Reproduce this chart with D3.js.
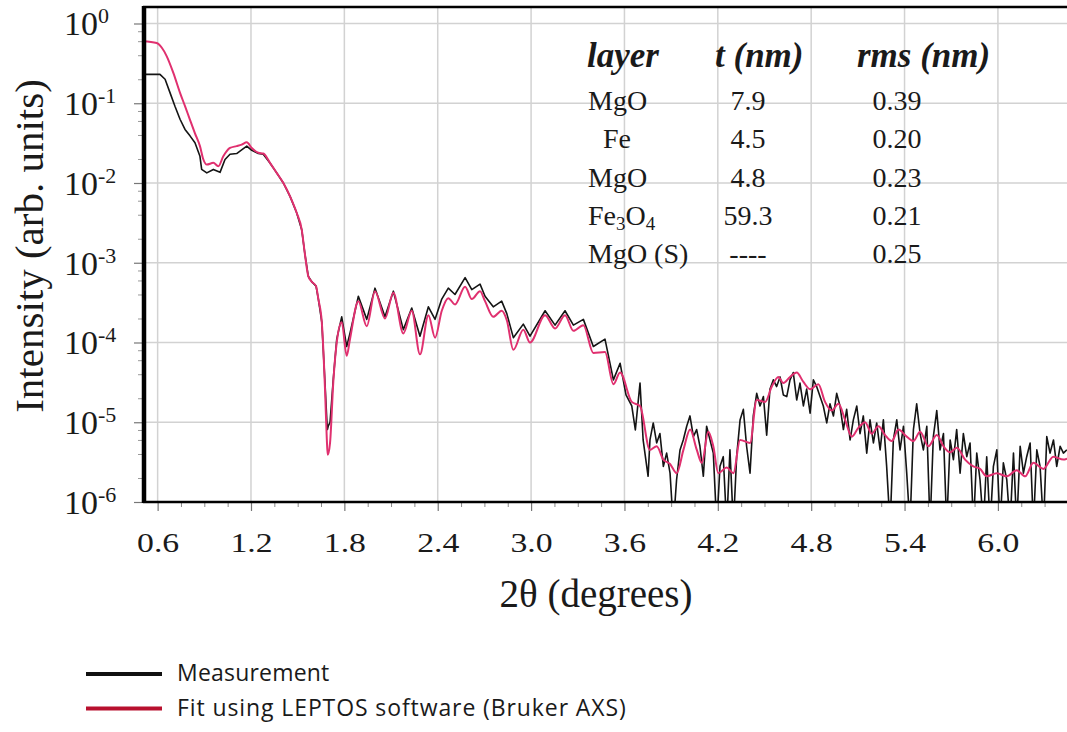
<!DOCTYPE html>
<html>
<head>
<meta charset="utf-8">
<script src="https://cdn.jsdelivr.net/npm/d3@7"></script>
<style>
  body { margin: 0; background: #fff; }
  svg { display: block; }
</style>
</head>
<body>
<svg id="chart" width="1067" height="732"></svg>
<script>
// Fit curve (LEPTOS), [2theta in degrees, intensity]
const fitData = [
    [0.506, 0.60], [0.594, 0.57], [0.626, 0.50], [0.658, 0.39], [0.701, 0.24],
    [0.744, 0.135], [0.776, 0.092], [0.808, 0.062], [0.840, 0.042], [0.872, 0.029],
    [0.894, 0.0197], [0.916, 0.017], [0.958, 0.0179], [0.990, 0.0162], [1.022, 0.0216],
    [1.065, 0.0275], [1.108, 0.029], [1.140, 0.0303], [1.173, 0.0324], [1.205, 0.0275],
    [1.247, 0.0239], [1.279, 0.0234], [1.322, 0.0179], [1.365, 0.0134], [1.408, 0.0100],
    [1.451, 0.0068], [1.494, 0.0042], [1.526, 0.0026], [1.547, 0.00126], [1.568, 6.8e-4],
    [1.590, 5.8e-4], [1.618, 5.1e-4], [1.633, 3.5e-4], [1.655, 1.8e-4], [1.676, 2.5e-5],
    [1.687, 6.3e-6], [1.693, 3.9e-6], [1.708, 5.5e-6], [1.729, 3.2e-5], [1.751, 1.0e-4],
    [1.783, 1.8e-4], [1.815, 6.8e-5], [1.836, 1.1e-4], [1.890, 3.3e-4], [1.944, 1.6e-4],
    [1.997, 4.4e-4], [2.061, 2.0e-4], [2.115, 4.2e-4], [2.179, 1.3e-4], [2.233, 2.5e-4],
    [2.286, 7.1e-5], [2.340, 2.2e-4], [2.383, 1.15e-4], [2.426, 2.5e-4], [2.468, 3.6e-4],
    [2.511, 3.0e-4], [2.576, 5.0e-4], [2.619, 3.5e-4], [2.672, 4.4e-4], [2.704, 3.3e-4],
    [2.757, 2.1e-4], [2.811, 2.5e-4], [2.844, 1.9e-4], [2.886, 8.1e-5], [2.950, 1.45e-4],
    [2.993, 1.0e-4], [3.090, 2.2e-4], [3.154, 1.5e-4], [3.218, 2.2e-4], [3.272, 1.4e-4],
    [3.336, 1.65e-4], [3.400, 7.4e-5], [3.475, 7.6e-5], [3.529, 3.0e-5], [3.572, 4.2e-5],
    [3.647, 1.8e-5], [3.700, 1.6e-5], [3.764, 4.5e-6], [3.807, 5.0e-6], [3.850, 3.4e-6],
    [3.893, 3.0e-6], [3.936, 2.3e-6], [3.979, 4.5e-6], [4.022, 8.1e-6], [4.065, 4.5e-6],
    [4.097, 3.1e-6], [4.139, 7.6e-6], [4.171, 5.0e-6], [4.203, 2.3e-6], [4.257, 2.7e-6],
    [4.300, 2.3e-6], [4.343, 6.0e-6], [4.407, 5.5e-6], [4.450, 1.9e-5], [4.504, 1.8e-5],
    [4.547, 2.8e-5], [4.589, 3.7e-5], [4.621, 3.1e-5], [4.664, 3.7e-5], [4.707, 4.2e-5],
    [4.750, 3.2e-5], [4.793, 2.6e-5], [4.846, 3.0e-5], [4.889, 1.8e-5], [4.932, 1.4e-5],
    [4.975, 1.7e-5], [5.018, 1.07e-5], [5.061, 6.6e-6], [5.103, 8.5e-6], [5.146, 1.0e-5],
    [5.189, 7.2e-6], [5.232, 8.9e-6], [5.275, 6.9e-6], [5.318, 5.8e-6], [5.360, 8.1e-6],
    [5.414, 6.6e-6], [5.457, 5.8e-6], [5.500, 7.6e-6], [5.553, 5.0e-6], [5.607, 6.9e-6],
    [5.650, 5.0e-6], [5.693, 4.2e-6], [5.736, 4.8e-6], [5.789, 3.4e-6], [5.842, 2.8e-6],
    [5.885, 2.6e-6], [5.928, 2.1e-6], [5.993, 2.3e-6], [6.057, 2.1e-6], [6.121, 2.5e-6],
    [6.175, 2.1e-6], [6.228, 3.1e-6], [6.292, 2.6e-6], [6.356, 3.7e-6], [6.421, 3.4e-6],
    [6.444, 3.5e-6]
];

// Measured reflectivity, [2theta in degrees, intensity]
const measData = [
    [0.506, 0.23], [0.615, 0.23], [0.648, 0.20], [0.680, 0.135], [0.712, 0.091],
    [0.744, 0.063], [0.776, 0.047], [0.808, 0.039], [0.840, 0.032], [0.872, 0.0216],
    [0.883, 0.0148], [0.916, 0.0134], [0.958, 0.0148], [1.001, 0.0136], [1.033, 0.0197],
    [1.065, 0.0229], [1.108, 0.0234], [1.140, 0.026], [1.173, 0.029], [1.205, 0.0257],
    [1.247, 0.0235], [1.279, 0.023], [1.322, 0.0178], [1.365, 0.0134], [1.408, 0.0100],
    [1.451, 0.0068], [1.494, 0.0042], [1.526, 0.0026], [1.547, 0.00126], [1.568, 6.8e-4],
    [1.590, 5.8e-4], [1.618, 5.1e-4], [1.633, 3.5e-4], [1.655, 1.8e-4], [1.676, 3.0e-5],
    [1.687, 1.1e-5], [1.691, 8.1e-6], [1.697, 9.0e-6], [1.708, 1.0e-5], [1.729, 3.5e-5],
    [1.751, 1.1e-4], [1.783, 2.1e-4], [1.815, 8.9e-5], [1.836, 1.3e-4], [1.890, 3.8e-4],
    [1.944, 1.95e-4], [1.997, 4.8e-4], [2.061, 2.1e-4], [2.115, 4.4e-4], [2.179, 1.45e-4],
    [2.233, 2.7e-4], [2.286, 1.2e-4], [2.340, 2.8e-4], [2.383, 1.95e-4], [2.426, 3.5e-4],
    [2.468, 4.8e-4], [2.511, 4.0e-4], [2.576, 6.5e-4], [2.619, 4.6e-4], [2.672, 5.4e-4],
    [2.704, 3.8e-4], [2.757, 2.8e-4], [2.811, 3.3e-4], [2.844, 2.3e-4], [2.886, 1.15e-4],
    [2.950, 1.7e-4], [2.993, 1.2e-4], [3.090, 2.5e-4], [3.154, 1.65e-4], [3.218, 2.5e-4],
    [3.272, 1.65e-4], [3.336, 1.95e-4], [3.400, 8.9e-5], [3.475, 1.1e-4], [3.529, 3.4e-5],
    [3.572, 5.5e-5], [3.610, 2.2e-5], [3.647, 1.6e-5], [3.670, 8.0e-6], [3.700, 3.1e-5],
    [3.720, 6.0e-6], [3.752, 2.1e-6],
    [3.764, 6.0e-6], [3.785, 9.8e-6], [3.807, 5.5e-6], [3.828, 7.2e-6], [3.850, 2.8e-6],
    [3.871, 4.1e-6], [3.893, 2.3e-6], [3.914, 5e-7], [3.935, 1.9e-6], [3.957, 4.5e-6],
    [3.978, 6.0e-6], [4.000, 8.9e-6], [4.021, 1.2e-5], [4.043, 6.6e-6], [4.064, 8.1e-6],
    [4.085, 5.0e-6], [4.107, 2.1e-6], [4.128, 8.9e-6], [4.150, 6.0e-6], [4.171, 4.1e-6],
    [4.193, 5e-7], [4.214, 2.8e-6], [4.235, 3.7e-6], [4.257, 5e-7], [4.278, 4.5e-6],
    [4.300, 5e-7], [4.321, 3.7e-6], [4.343, 1.07e-5], [4.364, 1.45e-5], [4.385, 5.0e-6],
    [4.407, 2.3e-6], [4.428, 1.2e-5], [4.450, 2.3e-5], [4.471, 1.6e-5], [4.493, 2.1e-5],
    [4.514, 6.9e-6], [4.535, 2.6e-5], [4.557, 3.4e-5], [4.578, 2.8e-5], [4.600, 3.7e-5],
    [4.621, 2.2e-5], [4.643, 2.1e-5], [4.664, 3.4e-5], [4.685, 4.2e-5], [4.707, 1.9e-5],
    [4.728, 3.1e-5], [4.750, 1.6e-5], [4.771, 2.6e-5], [4.793, 1.3e-5], [4.814, 3.4e-5],
    [4.835, 2.8e-5], [4.857, 2.1e-5], [4.878, 1.6e-5], [4.900, 9.8e-6], [4.921, 1.7e-5],
    [4.943, 1.2e-5], [4.964, 2.3e-5], [4.985, 1.6e-5], [5.007, 8.1e-6], [5.028, 1.45e-5],
    [5.050, 6.0e-6], [5.071, 1.07e-5], [5.093, 1.6e-5], [5.114, 7.2e-6], [5.135, 1.2e-5],
    [5.157, 4.1e-6], [5.178, 1.07e-5], [5.200, 5.5e-6], [5.221, 9.8e-6], [5.243, 4.5e-6],
    [5.264, 1.07e-5], [5.285, 2.8e-6], [5.307, 5e-7], [5.328, 6.0e-6], [5.350, 1.07e-5],
    [5.371, 4.5e-6], [5.393, 8.9e-6], [5.414, 2.3e-6], [5.435, 5e-7], [5.457, 8.1e-6],
    [5.478, 1.7e-5], [5.500, 7.2e-6], [5.521, 4.5e-6], [5.543, 8.9e-6], [5.564, 5e-7],
    [5.585, 6.6e-6], [5.607, 1.4e-5], [5.628, 4.5e-6], [5.650, 7.2e-6], [5.671, 5e-7],
    [5.693, 6.0e-6], [5.714, 3.4e-6], [5.735, 8.1e-6], [5.757, 2.3e-6], [5.778, 7.2e-6],
    [5.800, 3.7e-6], [5.821, 5.5e-6], [5.843, 5e-7], [5.864, 4.1e-6], [5.885, 1.9e-6],
    [5.907, 5e-7], [5.928, 3.7e-6], [5.950, 5e-7], [5.971, 2.8e-6], [5.993, 4.5e-6],
    [6.014, 5e-7], [6.035, 3.1e-6], [6.057, 1.9e-6], [6.078, 5e-7], [6.100, 4.1e-6],
    [6.121, 5e-7], [6.143, 5.0e-6], [6.164, 2.3e-6], [6.185, 3.7e-6], [6.207, 5.5e-6],
    [6.228, 5e-7], [6.250, 4.5e-6], [6.271, 2.8e-6], [6.293, 5e-7], [6.314, 6.6e-6],
    [6.335, 4.1e-6], [6.357, 6.0e-6], [6.378, 2.8e-6], [6.400, 5.0e-6], [6.421, 4.1e-6],
    [6.443, 4.5e-6]
];

// Axis ticks
const xMajorTicks = [0.6, 1.2, 1.8, 2.4, 3.0, 3.6, 4.2, 4.8, 5.4, 6.0];
const xMinorTicks = [0.75, 0.9, 1.05, 1.35, 1.5, 1.65, 1.95, 2.1, 2.25, 2.55, 2.7, 2.85,
    3.15, 3.3, 3.45, 3.75, 3.9, 4.05, 4.35, 4.5, 4.65, 4.95, 5.1, 5.25, 5.55, 5.7, 5.85,
    6.15, 6.3];
const yExponents = [0, -1, -2, -3, -4, -5, -6];
const yMinorMantissas = [2, 4, 6, 8];

// Layer table
const tableHeader = ["layer", "t (nm)", "rms (nm)"];
const layerNames = ["MgO", "Fe", "MgO", "Fe3O4", "MgO (S)"];
const layerThickness = ["7.9", "4.5", "4.8", "59.3", "----"];
const layerRms = ["0.39", "0.20", "0.23", "0.21", "0.25"];

// Legend
const legendLabels = ["Measurement", "Fit using LEPTOS software (Bruker AXS)"];
const legendColors = ["#111111", "#b8102e"];

const serif = "'Liberation Serif', 'Times New Roman', serif";
const fitColor = "#e0306f";

const svg = d3.select("#chart");
const plotLeft = 143, plotRight = 1067, plotTop = 7, plotBottom = 502;

const x = d3.scaleLinear().domain([0.506, 6.444]).range([plotLeft, plotRight]);
const y = d3.scaleLog().domain([1e-6, 1.61]).range([plotBottom, plotTop]);

// Grid lines
const grid = svg.append("g").attr("stroke", "#d2d2d2").attr("stroke-width", 1.5);
grid.selectAll("line.vx")
    .data(xMajorTicks)
    .enter().append("line")
    .attr("x1", d => x(d)).attr("x2", d => x(d))
    .attr("y1", plotTop).attr("y2", plotBottom);
grid.selectAll("line.hy")
    .data(yExponents.filter(e => e > -6))
    .enter().append("line")
    .attr("x1", plotLeft).attr("x2", plotRight)
    .attr("y1", e => y(Math.pow(10, e))).attr("y2", e => y(Math.pow(10, e)));

// X axis ticks and labels
const xAxis = svg.append("g")
    .attr("transform", `translate(0,${plotBottom})`)
    .call(d3.axisBottom(x).tickValues(xMajorTicks).tickSize(9).tickFormat(d3.format(".1f")));
xAxis.select(".domain").remove();
xAxis.selectAll(".tick line").attr("stroke", "#777").attr("stroke-width", 1.2);
xAxis.selectAll(".tick text")
    .attr("y", 50).attr("dy", 0)
    .attr("fill", "#1a1a1a")
    .style("font-family", serif)
    .style("font-size", "27px")
    .attr("transform", "scale(1.25,1)");

const xMinor = svg.append("g")
    .attr("transform", `translate(0,${plotBottom})`)
    .call(d3.axisBottom(x).tickValues(xMinorTicks).tickSize(5).tickFormat(""));
xMinor.select(".domain").remove();
xMinor.selectAll(".tick line").attr("stroke", "#888").attr("stroke-width", 1);

// Y axis ticks
const yMajorVals = yExponents.map(e => Math.pow(10, e));
const yAxis = svg.append("g")
    .attr("transform", `translate(${plotLeft},0)`)
    .call(d3.axisLeft(y).tickValues(yMajorVals).tickSize(9).tickFormat(""));
yAxis.select(".domain").remove();
yAxis.selectAll(".tick line").attr("stroke", "#777").attr("stroke-width", 1.2);

const yMinorVals = [];
yExponents.slice(1).forEach(e => yMinorMantissas.forEach(m => yMinorVals.push(m * Math.pow(10, e))));
const yMinor = svg.append("g")
    .attr("transform", `translate(${plotLeft},0)`)
    .call(d3.axisLeft(y).tickValues(yMinorVals).tickSize(5).tickFormat(""));
yMinor.select(".domain").remove();
yMinor.selectAll(".tick line").attr("stroke", "#999").attr("stroke-width", 1);

// Y tick labels as 10^n
const yLabels = svg.append("g").attr("fill", "#1a1a1a").style("font-family", serif);
yExponents.forEach(e => {
    const t = yLabels.append("text")
        .attr("x", 64)
        .attr("y", y(Math.pow(10, e)) + 12)
        .style("font-size", "34px")
        .text("10");
    t.append("tspan")
        .attr("dy", -12)
        .style("font-size", "22px")
        .text(e === 0 ? "0" : String(e));
});

// Curves
svg.append("clipPath").attr("id", "plot-clip")
    .append("rect")
    .attr("x", plotLeft).attr("y", plotTop)
    .attr("width", plotRight - plotLeft).attr("height", plotBottom - plotTop);

const line = d3.line()
    .x(d => x(d[0]))
    .y(d => y(d[1]));

const curves = svg.append("g").attr("clip-path", "url(#plot-clip)");
curves.append("path")
    .datum(measData)
    .attr("fill", "none")
    .attr("stroke", "#141414")
    .attr("stroke-width", 1.6)
    .attr("stroke-linejoin", "round")
    .attr("d", line);
curves.append("path")
    .datum(fitData)
    .attr("fill", "none")
    .attr("stroke", fitColor)
    .attr("stroke-width", 2)
    .attr("stroke-linejoin", "round")
    .attr("d", line.curve(d3.curveMonotoneX));

// Frame lines
svg.append("line")
    .attr("x1", plotLeft + 1).attr("x2", plotLeft + 1)
    .attr("y1", plotTop - 1).attr("y2", plotBottom + 1)
    .attr("stroke", "#000").attr("stroke-width", 4.5);
svg.append("line")
    .attr("x1", plotLeft).attr("x2", plotRight)
    .attr("y1", plotBottom).attr("y2", plotBottom)
    .attr("stroke", "#000").attr("stroke-width", 2.5);
svg.append("line")
    .attr("x1", plotLeft).attr("x2", plotRight)
    .attr("y1", plotTop).attr("y2", plotTop)
    .attr("stroke", "#000").attr("stroke-width", 2.5);

// Axis titles
svg.append("text")
    .attr("transform", "translate(43,246) rotate(-90)")
    .attr("text-anchor", "middle")
    .attr("fill", "#1a1a1a")
    .style("font-family", serif)
    .style("font-size", "41px")
    .text("Intensity (arb. units)");

svg.append("text")
    .attr("x", 596).attr("y", 607)
    .attr("text-anchor", "middle")
    .attr("fill", "#1a1a1a")
    .style("font-family", serif)
    .style("font-size", "39px")
    .text("2\u03b8 (degrees)");

// Layer table
const table = svg.append("g").attr("fill", "#1a1a1a").style("font-family", serif);
const headerX = [587, 715, 857];
tableHeader.forEach((h, i) => {
    table.append("text")
        .attr("x", headerX[i]).attr("y", 67)
        .style("font-size", "35px")
        .style("font-weight", "bold")
        .style("font-style", "italic")
        .text(h);
});

const rowY = d3.scaleLinear().domain([0, 4]).range([110, 263]);
layerNames.forEach((name, i) => {
    const t = table.append("text")
        .attr("x", name === "Fe" ? 603 : 588)
        .attr("y", rowY(i))
        .style("font-size", "28px");
    // chemical subscripts
    const parts = name.split(/(\d)/).filter(p => p !== "");
    let sub = false;
    parts.forEach(p => {
        const isDigit = /\d/.test(p);
        const ts = t.append("tspan").text(p);
        if (isDigit && !sub) { ts.attr("dy", 5).style("font-size", "19px"); sub = true; }
        else if (!isDigit && sub) { ts.attr("dy", -5); sub = false; }
        else if (isDigit) { ts.style("font-size", "19px"); }
    });
    table.append("text")
        .attr("x", 748).attr("y", rowY(i))
        .attr("text-anchor", "middle")
        .style("font-size", "28px")
        .text(layerThickness[i]);
    table.append("text")
        .attr("x", 897).attr("y", rowY(i))
        .attr("text-anchor", "middle")
        .style("font-size", "28px")
        .text(layerRms[i]);
});

// Legend below the chart
const legend = svg.append("g").style("font-family", "'Open Sans', sans-serif");
legendLabels.forEach((label, i) => {
    const ly = 674 + i * 34.5;
    legend.append("line")
        .attr("x1", 86).attr("x2", 162)
        .attr("y1", ly).attr("y2", ly)
        .attr("stroke", legendColors[i])
        .attr("stroke-width", 4);
    legend.append("text")
        .attr("x", 177).attr("y", ly + 7)
        .attr("fill", "#1a1a1a")
        .style("font-size", "23px")
        .style("letter-spacing", i === 1 ? "0.9px" : "0.2px")
        .text(label);
});
</script>
</body>
</html>
